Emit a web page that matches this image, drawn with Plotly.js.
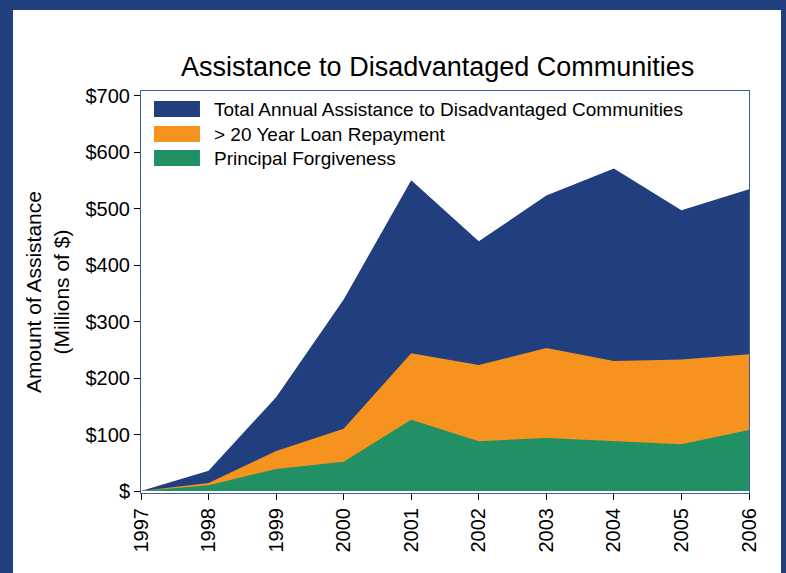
<!DOCTYPE html>
<html>
<head>
<meta charset="utf-8">
<script src="https://cdn.plot.ly/plotly-3.0.1.min.js"></script>
<style>
html,body{margin:0;padding:0;background:#213f7f;width:786px;height:573px;overflow:hidden;}
#chart{position:absolute;left:13px;top:10px;width:768px;height:563px;background:#fff;}
</style>
</head>
<body>
<div id="chart"></div>
<script>
var years = [1997, 1998, 1999, 2000, 2001, 2002, 2003, 2004, 2005, 2006];
var totalAssistance = [0, 36, 166, 339, 550, 442, 523, 571, 497, 534];
var loanRepayment = [0, 14, 71, 110, 244, 223, 253, 230, 233, 242];
var principalForgiveness = [0, 10, 39, 52, 126, 88, 94, 88, 83, 108];
var seriesNames = ["Total Annual Assistance to Disadvantaged Communities", "> 20 Year Loan Repayment", "Principal Forgiveness"];
var seriesColors = ["#213f7f", "#f6921e", "#219064"];
var yTickVals = [0, 100, 200, 300, 400, 500, 600, 700];
var yTickText = ["$", "$100", "$200", "$300", "$400", "$500", "$600", "$700"];

var seriesValues = [totalAssistance, loanRepayment, principalForgiveness];
var traces = seriesValues.map(function(v, i){
  return {x: years, y: v, type: 'scatter', mode: 'lines', fill: 'tozeroy',
    name: seriesNames[i], line: {width: 0, color: seriesColors[i]},
    fillcolor: seriesColors[i], showlegend: false, hoverinfo: 'x+y'};
});

var font = "'Liberation Sans', Arial, sans-serif";
var shapes = [], annotations = [];
var swY = [[0.9751, 0.9353], [0.9129, 0.8731], [0.8532, 0.8134]];
var txtY = [0.9552, 0.893, 0.8333];
for (var i = 0; i < seriesNames.length; i++) {
  shapes.push({type: 'rect', xref: 'paper', yref: 'paper', x0: 0.0214, x1: 0.097,
    y0: swY[i][1], y1: swY[i][0], fillcolor: seriesColors[i], line: {width: 0}});
  annotations.push({xref: 'paper', yref: 'paper', x: 0.1168, y: txtY[i], xanchor: 'left',
    yanchor: 'middle', text: seriesNames[i].replace('>', '&gt;'), showarrow: false,
    font: {family: font, size: 19, color: '#000'}});
}

var layout = {
  width: 768, height: 563,
  margin: {l: 128, r: 32, t: 81, b: 80},
  paper_bgcolor: '#fff', plot_bgcolor: '#fff',
  font: {family: font, color: '#000', size: 20},
  title: {text: 'Assistance to Disadvantaged Communities', x: 0.553, xanchor: 'center',
    y: 0.899, yanchor: 'middle', yref: 'container', font: {family: font, size: 27, color: '#000'}},
  xaxis: {range: [1997, 2006], tickvals: years, ticktext: years.map(String), tickangle: -90,
    ticks: 'outside', ticklen: 6, tickcolor: '#000', showgrid: false, zeroline: false,
    showline: true, linecolor: '#3d5c9c', linewidth: 1, mirror: true,
    tickfont: {family: font, size: 20, color: '#000'}},
  yaxis: {range: [-3.5, 708], tickvals: yTickVals, ticktext: yTickText,
    ticks: 'outside', ticklen: 6, tickcolor: '#000', showgrid: false, zeroline: false,
    showline: true, linecolor: '#3d5c9c', linewidth: 1, mirror: true,
    tickfont: {family: font, size: 20, color: '#000'},
    title: {text: 'Amount of Assistance<br>(Millions of $)', font: {family: font, size: 21, color: '#000'}, standoff: 10}},
  shapes: shapes, annotations: annotations,
  showlegend: false
};
Plotly.newPlot('chart', traces, layout, {displayModeBar: false, staticPlot: true});
</script>
</body>
</html>
